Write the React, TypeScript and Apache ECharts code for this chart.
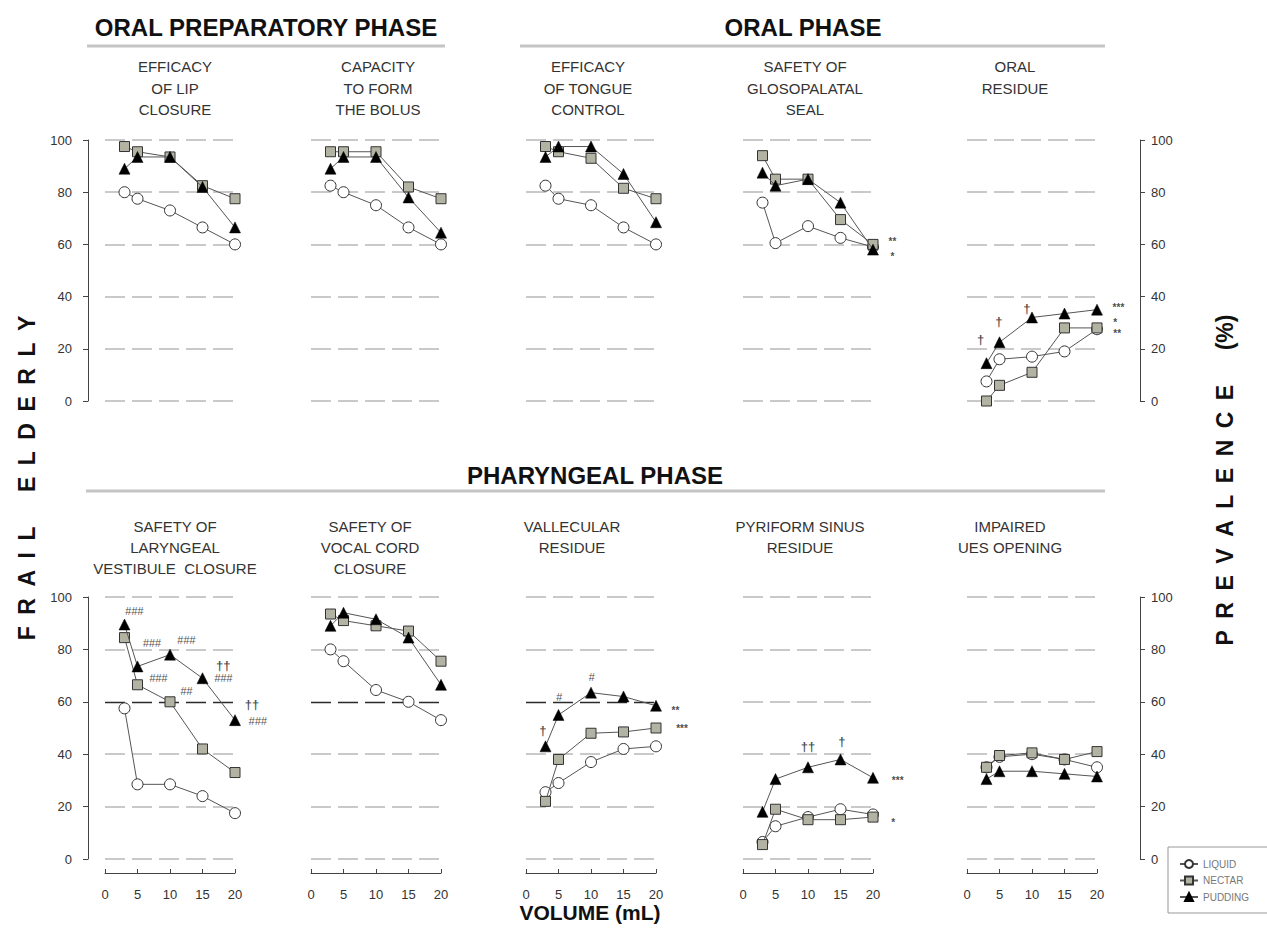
import React, { useEffect, useRef } from 'react';
import * as echarts from 'echarts';

const FONT = '"Liberation Sans", Arial, Helvetica, sans-serif';

// ---------- data ----------
const volumes = [3, 5, 10, 15, 20];
const seriesNames = ['LIQUID', 'NECTAR', 'PUDDING'];

const lipLiquid = [80, 77.5, 73, 66.5, 60];
const lipNectar = [97.5, 95.5, 93.5, 82.5, 77.5];
const lipPudding = [89, 93.5, 93.5, 82, 66.5];

const bolusLiquid = [82.5, 80, 75, 66.5, 60];
const bolusNectar = [95.5, 95.5, 95.5, 82, 77.5];
const bolusPudding = [89, 93.5, 93.5, 78, 64.5];

const tongueLiquid = [82.5, 77.5, 75, 66.5, 60];
const tongueNectar = [97.5, 95.5, 93, 81.5, 77.5];
const tonguePudding = [93.5, 97.5, 97.5, 87, 68.5];

const sealLiquid = [76, 60.5, 67, 62.5, 59];
const sealNectar = [94, 85, 85, 69.5, 60];
const sealPudding = [87.5, 82.5, 85, 76, 58];

const oralResLiquid = [7.5, 16, 17, 19, 27.5];
const oralResNectar = [0, 6, 11, 28, 28];
const oralResPudding = [14.5, 22.5, 32, 33.5, 35];

const laryngealLiquid = [57.5, 28.5, 28.5, 24, 17.5];
const laryngealNectar = [84.5, 66.5, 60, 42, 33];
const laryngealPudding = [89.5, 73.5, 78, 69, 53];

const vocalLiquid = [80, 75.5, 64.5, 60, 53];
const vocalNectar = [93.5, 91, 89, 87, 75.5];
const vocalPudding = [89, 94, 91.5, 84.5, 66.5];

const vallecularLiquid = [25.5, 29, 37, 42, 43];
const vallecularNectar = [22, 38, 48, 48.5, 50];
const vallecularPudding = [43, 55, 63.5, 62, 58.5];

const pyriformLiquid = [6.5, 12.5, 16, 19, 17];
const pyriformNectar = [5.5, 19, 15, 15, 16];
const pyriformPudding = [18, 30.5, 35, 38, 31];

const uesLiquid = [35, 39, 40, 38, 35];
const uesNectar = [35, 39.5, 40.5, 38, 41];
const uesPudding = [30.5, 33.5, 33.5, 32.5, 31.5];

// reference line value drawn dark in the first three pharyngeal panels
const darkGridValue = 60;

// significance marks: [volume, value, text]
const sealMarks: [number, number, string][] = [[23, 61, '**'], [23, 55.5, '*']];
const oralResMarks: [number, number, string][] = [
  [2.1, 23.5, '†'], [4.9, 30.5, '†'], [9.2, 35.5, '†'],
  [23.3, 36, '***'], [22.8, 30, '*'], [23.1, 26, '**'],
];
const laryngealMarks: [number, number, string][] = [
  [4.5, 94.5, '###'], [7.2, 82.5, '###'], [12.5, 83.5, '###'],
  [18.2, 74, '††'], [18.2, 69, '###'], [8.2, 69, '###'], [12.5, 64, '##'],
  [22.6, 59, '††'], [23.5, 52.5, '###'],
];
const vallecularMarks: [number, number, string][] = [
  [2.6, 49, '†'], [5.1, 62, '#'], [10.1, 69.5, '#'], [23, 56.5, '**'], [24, 50, '***'],
];
const pyriformMarks: [number, number, string][] = [
  [10, 43, '††'], [15.2, 45, '†'], [23.8, 30, '***'], [23.1, 14, '*'],
];

const noMarks: [number, number, string][] = [];

const panels = [
  { title: 'EFFICACY\nOF LIP\nCLOSURE', liquid: lipLiquid, nectar: lipNectar, pudding: lipPudding, marks: noMarks },
  { title: 'CAPACITY\nTO FORM\nTHE BOLUS', liquid: bolusLiquid, nectar: bolusNectar, pudding: bolusPudding, marks: noMarks },
  { title: 'EFFICACY\nOF TONGUE\nCONTROL', liquid: tongueLiquid, nectar: tongueNectar, pudding: tonguePudding, marks: noMarks },
  { title: 'SAFETY OF\nGLOSOPALATAL\nSEAL', liquid: sealLiquid, nectar: sealNectar, pudding: sealPudding, marks: sealMarks },
  { title: 'ORAL\nRESIDUE', liquid: oralResLiquid, nectar: oralResNectar, pudding: oralResPudding, marks: oralResMarks },
  { title: 'SAFETY OF\nLARYNGEAL\nVESTIBULE  CLOSURE', liquid: laryngealLiquid, nectar: laryngealNectar, pudding: laryngealPudding, marks: laryngealMarks },
  { title: 'SAFETY OF\nVOCAL CORD\nCLOSURE', liquid: vocalLiquid, nectar: vocalNectar, pudding: vocalPudding, marks: noMarks },
  { title: 'VALLECULAR\nRESIDUE', liquid: vallecularLiquid, nectar: vallecularNectar, pudding: vallecularPudding, marks: vallecularMarks },
  { title: 'PYRIFORM SINUS\nRESIDUE', liquid: pyriformLiquid, nectar: pyriformNectar, pudding: pyriformPudding, marks: pyriformMarks },
  { title: 'IMPAIRED\nUES OPENING', liquid: uesLiquid, nectar: uesNectar, pudding: uesPudding, marks: noMarks },
];

// ---------- layout ----------
const gridLefts = [105, 311, 526, 743, 967];
const gridWidth = 130;
const rowTops = [140, 597];
const rowHeights = [261, 262];
const titleCentersTop = [175, 378, 588, 805, 1015];
const titleCentersBottom = [175, 370, 572, 800, 1010];

const GRID_GRAY = '#c9c9c9';

function buildOption() {
  const grid: any[] = [];
  const xAxis: any[] = [];
  const yAxis: any[] = [];
  const series: any[] = [];
  const graphic: any[] = [];

  panels.forEach((p, i) => {
    const row = i < 5 ? 0 : 1;
    const col = i % 5;
    const isLeft = col === 0;
    const isRight = col === 4;
    const bottomRow = row === 1;
    grid.push({ left: gridLefts[col], top: rowTops[row], width: gridWidth, height: rowHeights[row] });

    xAxis.push({
      gridIndex: i, type: 'value', min: 0, max: 20, interval: 5,
      show: bottomRow, offset: 14, position: 'bottom',
      axisLine: { show: true, onZero: false, lineStyle: { color: '#444', width: 1 } },
      axisTick: { show: true, inside: true, length: 4, lineStyle: { color: '#444' } },
      axisLabel: { show: true, margin: 15, fontSize: 13, color: '#333', fontFamily: FONT },
      splitLine: { show: false },
    });

    const darkLine = bottomRow && col < 3;
    const splitColors = darkLine
      ? [GRID_GRAY, GRID_GRAY, GRID_GRAY, 'rgba(0,0,0,0)', GRID_GRAY, GRID_GRAY]
      : GRID_GRAY;

    yAxis.push({
      gridIndex: i, type: 'value', min: 0, max: 100, interval: 20,
      position: isRight ? 'right' : 'left',
      offset: isLeft ? 17 : isRight ? 43 : 0,
      axisLine: { show: isLeft || isRight, onZero: false, lineStyle: { color: '#444', width: 1 } },
      axisTick: { show: isLeft || isRight, length: 5, lineStyle: { color: '#444' } },
      axisLabel: { show: isLeft || isRight, margin: isLeft ? 16 : 11, fontSize: 13, color: '#333', fontFamily: FONT },
      splitLine: { show: true, lineStyle: { type: [20, 7], color: splitColors, width: 2 } },
    });

    const mk = (vals: number[]) => volumes.map((v, k) => [v, vals[k]]);
    const lineStyle = { color: '#555', width: 1 };

    series.push({
      type: 'line', name: 'LIQUID', xAxisIndex: i, yAxisIndex: i, data: mk(p.liquid),
      symbol: 'circle', symbolSize: 11, showAllSymbol: true,
      itemStyle: { color: '#ffffff', borderColor: '#333', borderWidth: 1 },
      lineStyle, z: 3,
      markLine: darkLine
        ? {
            silent: true, symbol: 'none', label: { show: false },
            lineStyle: { type: [20, 7], color: '#2a2a2a', width: 1.3 },
            data: [{ yAxis: darkGridValue }],
            z: 1,
          }
        : undefined,
    });
    series.push({
      type: 'line', name: 'NECTAR', xAxisIndex: i, yAxisIndex: i, data: mk(p.nectar),
      symbol: 'rect', symbolSize: 10,
      itemStyle: { color: '#b3b3a3', borderColor: '#333', borderWidth: 1 },
      lineStyle, z: 4,
    });
    series.push({
      type: 'line', name: 'PUDDING', xAxisIndex: i, yAxisIndex: i, data: mk(p.pudding),
      symbol: 'triangle', symbolSize: 11,
      itemStyle: { color: '#000000', borderColor: '#000', borderWidth: 0.5 },
      lineStyle, z: 5,
    });

    if (p.marks.length) {
      series.push({
        type: 'scatter', name: 'marks' + i, xAxisIndex: i, yAxisIndex: i, clip: false,
        symbolSize: 1, itemStyle: { color: 'rgba(0,0,0,0)' }, silent: true, z: 6,
        data: p.marks.map((m) => {
          const isHash = m[2].indexOf('#') >= 0;
          const isDag = m[2].indexOf('†') >= 0;
          return {
            value: [m[0], m[1]],
            label: {
              show: true, position: 'inside', formatter: m[2], color: '#1a1a1a', fontFamily: FONT,
              fontSize: isDag ? 13 : isHash ? 11 : 10,
              fontStyle: isHash ? 'italic' : 'normal',
              fontWeight: isHash ? 'normal' : 'bold',
            },
          };
        }),
      });
    }

    const tc = row === 0 ? titleCentersTop[col] : titleCentersBottom[col];
    graphic.push({
      type: 'text', x: tc, y: row === 0 ? 56 : 516,
      style: {
        text: p.title, textAlign: 'center', textVerticalAlign: 'top',
        font: `15px ${FONT}`, fill: '#333', lineHeight: row === 0 ? 21.5 : 21,
      },
    });
  });

  // section titles and rules
  const sec = (text: string, x: number, y: number) => ({
    type: 'text', x, y,
    style: { text, textAlign: 'center', textVerticalAlign: 'middle', font: `bold 24px ${FONT}`, fill: '#111' },
  });
  const rule = (x1: number, x2: number, y: number) => ({
    type: 'line', shape: { x1, y1: y, x2, y2: y }, style: { stroke: '#c4c4c4', lineWidth: 3 },
  });
  graphic.push(sec('ORAL PREPARATORY PHASE', 266, 27));
  graphic.push(rule(87, 445, 46));
  graphic.push(sec('ORAL PHASE', 803, 27));
  graphic.push(rule(520, 1105, 46));
  graphic.push(sec('PHARYNGEAL PHASE', 595, 475));
  graphic.push(rule(86, 1105, 491));

  graphic.push({
    type: 'text', x: 590, y: 912,
    style: { text: 'VOLUME (mL)', textAlign: 'center', textVerticalAlign: 'middle', font: `bold 21px ${FONT}`, fill: '#111' },
  });

  const sp = '\u2002';
  graphic.push({
    type: 'text', x: 27, y: 478, rotation: Math.PI / 2,
    style: {
      text: 'FRAIL'.split('').join(sp) + sp + sp + sp + 'ELDERLY'.split('').join(sp),
      textAlign: 'center', textVerticalAlign: 'middle', font: `bold 23px ${FONT}`, fill: '#111',
    },
  });
  graphic.push({
    type: 'text', x: 1225, y: 480, rotation: Math.PI / 2,
    style: {
      text: 'PREVALENCE'.split('').join(sp) + sp + sp + sp + '(%)',
      textAlign: 'center', textVerticalAlign: 'middle', font: `bold 23px ${FONT}`, fill: '#111',
    },
  });

  return {
    animation: false,
    backgroundColor: '#ffffff',
    textStyle: { fontFamily: FONT },
    grid, xAxis, yAxis, series, graphic,
    legend: {
      data: seriesNames, orient: 'vertical', left: 1168, top: 847,
      itemWidth: 18, itemHeight: 10, itemGap: 6.5,
      textStyle: { fontSize: 10, color: '#777', fontFamily: FONT },
      borderColor: '#999', borderWidth: 1, padding: [12, 20, 11, 11],
      backgroundColor: '#fff',
    },
  };
}

export default function App() {
  const ref = useRef<HTMLDivElement>(null);
  useEffect(() => {
    if (!ref.current) return;
    const chart = echarts.init(ref.current, undefined, { renderer: 'svg' });
    chart.setOption(buildOption() as any);
    return () => chart.dispose();
  }, []);
  return (
    <div
      ref={ref}
      style={{ position: 'fixed', left: 0, top: 0, width: 1267, height: 928, background: '#fff' }}
    />
  );
}
